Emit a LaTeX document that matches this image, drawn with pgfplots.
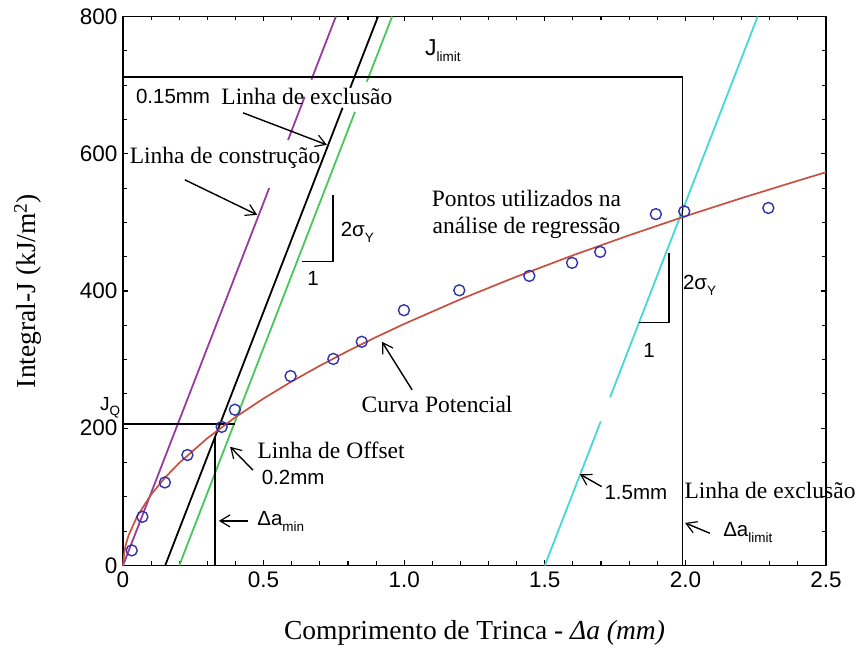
\documentclass[border=0pt]{standalone}
\usepackage{pgfplots}
\pgfplotsset{compat=1.18}
\usepackage{pgfplotstable}
\usepackage{fontspec}
\setmainfont{Liberation Serif}
\newfontfamily\hv{Liberation Sans}
\usetikzlibrary{arrows.meta}

\definecolor{constr}{RGB}{150,60,160}
\definecolor{offs}{RGB}{70,200,90}
\definecolor{excl}{RGB}{70,215,215}
\definecolor{curve}{RGB}{200,80,65}
\definecolor{pts}{RGB}{50,50,170}

\newcommand\serif{\fontsize{23.5}{28}\selectfont}
\newcommand\sans{\hv\fontsize{20.5}{24}\selectfont}
\newcommand\sub[1]{\raisebox{-0.5ex}{\hv\fontsize{13.5}{14}\selectfont #1}}

% measured J-R points
\pgfplotstableread{
da    J
0.031 22
0.069 71
0.149 121
0.229 161
0.351 202
0.398 227
0.596 276
0.748 301
0.849 326
0.999 372
1.196 401
1.445 422
1.597 441
1.697 457
1.895 512
1.996 516
2.295 521
}\jrpoints

% fitted power-law curve J = C (da)^n
\pgfplotstableread{
da    J
0     0
0.005 21
0.01  30.4
0.02  43.9
0.05  71.5
0.1   103.4
0.15  128.3
0.2   149.5
0.3   185.5
0.4   216.2
0.5   243.4
0.6   268.2
0.7   291.1
0.8   312.6
0.9   332.8
1.0   352.0
1.2   387.9
1.4   421.0
1.6   452.0
1.8   481.2
2.0   509.0
2.2   535.4
2.4   560.7
2.5   573.1
}\powercurve

\begin{document}
\begin{tikzpicture}[
  ann/.style={-{Straight Barb[length=10pt,width=12pt,line width=1.2pt]}, line width=1.4pt, black},
]
\begin{axis}[
  scale only axis,
  width=703pt, height=549pt,
  xmin=0, xmax=2.5, ymin=0, ymax=800,
  clip=false,
  axis line style={line width=1.5pt},
  xtick={0,0.5,1,1.5,2,2.5},
  xticklabels={0,0.5,1.0,1.5,2.0,2.5},
  ytick={0,200,400,600,800},
  yticklabels={0,200,400,600,800},
  minor x tick num=4,
  minor y tick num=3,
  tick align=inside,
  major tick length=5pt,
  minor tick length=4pt,
  every tick/.style={black, line width=1.1pt},
  tick label style={font=\hv\fontsize{22.5}{22.5}\selectfont},
  xticklabel style={yshift=-3pt},
  yticklabel style={xshift=-2pt},
  xlabel={Comprimento de Trinca - \textit{Δa (mm)}},
  ylabel={Integral-J (kJ/m\textsuperscript{2})},
  label style={font=\fontsize{27.5}{30}\selectfont},
  xlabel style={at={(axis description cs:0.5,0)}, anchor=center, yshift=-67pt},
  ylabel style={at={(axis description cs:0,0.5)}, anchor=center, yshift=95pt},
]
\coordinate (SW) at (rel axis cs:0,0);

% construction line (through the origin), broken where labels sit
\addplot[constr, line width=1.8pt] coordinates {(0,0) (0.520,550)};
\addplot[constr, line width=1.8pt] coordinates {(0.587,620) (0.646,683)};
\addplot[constr, line width=1.8pt] coordinates {(0.670,708) (0.757,800)};

% 0.15 mm exclusion line
\addplot[black, line width=1.8pt] coordinates {(0.15,0) (0.781,667)};
\addplot[black, line width=1.8pt] coordinates {(0.808,696) (0.907,800)};

% 0.2 mm offset line
\addplot[offs, line width=1.8pt] coordinates {(0.2,0) (0.825,661)};
\addplot[offs, line width=1.8pt] coordinates {(0.867,705) (0.957,800)};

% 1.5 mm exclusion line
\addplot[excl, line width=1.8pt] coordinates {(1.5,0) (1.699,210)};
\addplot[excl, line width=1.8pt] coordinates {(1.732,245) (2.257,800)};

% limits J_limit / delta a_limit
\addplot[black, line width=1.6pt] coordinates {(0,712) (1.99,712) (1.99,0)};

% J_Q and delta a_min
\addplot[black, line width=1.5pt] coordinates {(0,206) (0.398,206)};
\addplot[black, line width=1.5pt] coordinates {(0.327,0) (0.327,187)};

% slope triangles
\addplot[black, line width=1.5pt] coordinates {(0.637,443) (0.747,443) (0.747,540)};
\addplot[black, line width=1.5pt] coordinates {(1.835,354) (1.942,354) (1.942,456)};

% power-law fit and data
\addplot[curve, line width=1.7pt] table[x=da, y=J] {\powercurve};
\addplot[only marks, mark=o, mark size=5.5pt, mark options={pts, line width=1.4pt}] table[x=da, y=J] {\jrpoints};

% labels
\node[anchor=base west, inner sep=0pt] at (axis cs:1.074,743) {\hv\fontsize{23}{23}\selectfont J\sub{limit}};
\node[inner sep=0pt] at (axis cs:0.178,683) {\sans 0.15mm};
\node[inner sep=0pt] at (axis cs:0.654,683) {\serif Linha de exclusão};
\node[inner sep=0pt] at (axis cs:0.363,594) {\serif Linha de construção};
\node[anchor=base west, inner sep=0pt] at (axis cs:0.774,479) {\sans 2σ\sub{Y}};
\node[inner sep=0pt] at (axis cs:0.676,419) {\sans 1};
\node[inner sep=0pt, align=center, font=\fontsize{23.5}{27.5}\selectfont] at (axis cs:1.435,512) {Pontos utilizados na\\análise de regressão};
\node[anchor=base west, inner sep=0pt] at (axis cs:1.991,401.6) {\sans 2σ\sub{Y}};
\node[inner sep=0pt] at (axis cs:1.871,314) {\sans 1};
\node[inner sep=0pt] at (axis cs:1.117,234) {\serif Curva Potencial};
\node[inner sep=0pt] at (axis cs:0.740,168) {\serif Linha de Offset};
\node[inner sep=0pt] at (axis cs:0.605,129) {\sans 0.2mm};
\node[anchor=base west, inner sep=0pt] at (axis cs:0.477,57.6) {\sans Δa\sub{min}};
\node[inner sep=0pt] at (axis cs:1.824,107) {\sans 1.5mm};
\node[inner sep=0pt] at (axis cs:2.301,110) {\serif Linha de exclusão};
\node[anchor=base west, inner sep=0pt] at (axis cs:2.134,42) {\sans Δa\sub{limit}};
\node[anchor=base west, inner sep=0pt] at (axis cs:-0.082,225.7) {\hv\fontsize{19}{19}\selectfont J\sub{Q}};

% pointer arrows
\draw[ann] (axis cs:0.427,659.6) -- (axis cs:0.725,613);
\draw[ann] (axis cs:0.220,562) -- (axis cs:0.477,511);
\draw[ann] (axis cs:1.028,256) -- (axis cs:0.921,326);
\draw[ann] (axis cs:0.462,139) -- (axis cs:0.381,173);
\draw[ann] (axis cs:0.445,65) -- (axis cs:0.341,65);
\draw[ann] (axis cs:1.702,115) -- (axis cs:1.625,133);
\draw[ann] (axis cs:2.087,47) -- (axis cs:1.999,62);
\end{axis}
\pgfresetboundingbox
\path[use as bounding box] ([shift={(-123pt,-87.5pt)}]SW) rectangle ++(857pt,653pt);
\end{tikzpicture}
\end{document}
